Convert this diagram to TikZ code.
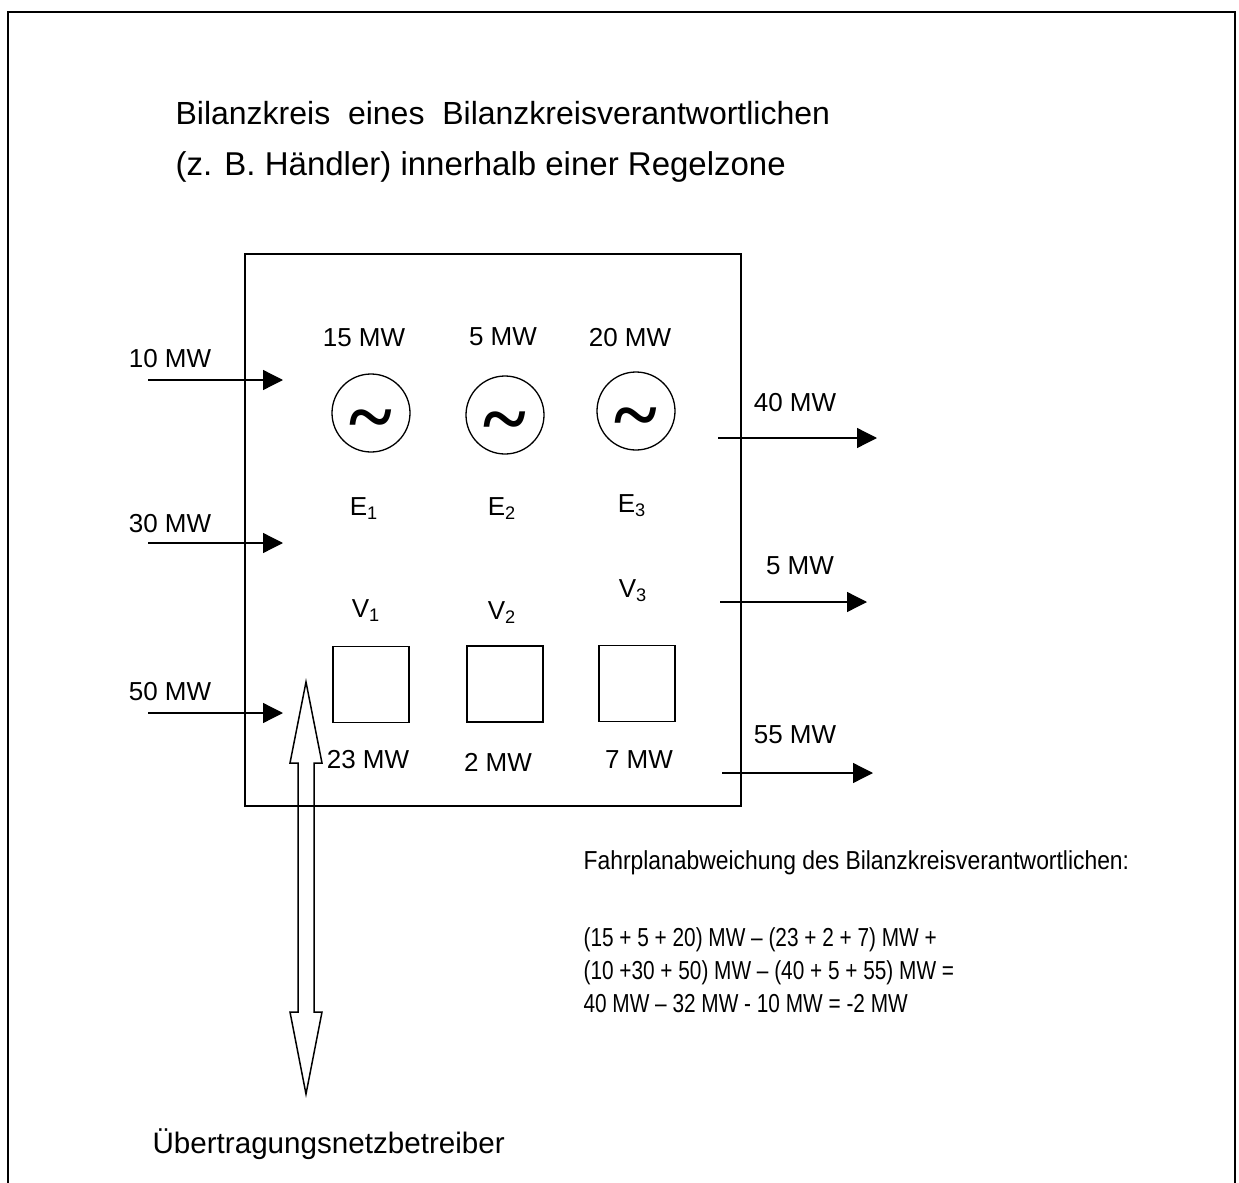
\documentclass[tikz,border=0pt]{standalone}
\usepackage{fontspec}
\setmainfont{Liberation Sans}
\newfontfamily\tildefont{Liberation Serif}
\usetikzlibrary{arrows.meta}

\begin{document}
\begin{tikzpicture}[x=0.5pt, y=-0.5pt, semithick,
  flow/.style={-{Triangle[length=10pt,width=10pt]}, line width=0.65pt},
  gen/.style={circle, draw, line width=0.65pt, minimum size=39pt, inner sep=0pt},
  wave/.style={inner sep=0pt, yshift=-7pt, font=\tildefont\bfseries\fontsize{41}{41}\selectfont},
  load/.style={draw, line width=0.75pt, minimum size=38pt, inner sep=0pt},
  lbl/.style={anchor=base, inner sep=0pt, font=\fontsize{13}{15}\selectfont},
  txt/.style={anchor=base west, inner sep=0pt, align=left}]

  \useasboundingbox (0,0) rectangle (1239,1183);
  \draw[line width=1pt] (8,1200) -- (8,12) -- (1235,12) -- (1235,1200);

  \node[txt, font=\fontsize{16}{18}\selectfont] (titel1) at (175,124) {Bilanzkreis\ \ eines\ \ Bilanzkreisverantwortlichen};
  \node[txt, font=\fontsize{16.5}{18}\selectfont] (titel2) at (175,175) {(z. B. Händler) innerhalb einer Regelzone};

  \draw[line width=1pt] (245,254) rectangle (741,806);

  % Einspeisungen
  \node[gen] (E1) at (371,413) {};
  \node[gen] (E2) at (505,415) {};
  \node[gen] (E3) at (636,411) {};
  \node[wave] at (E1) {\char"7E};
  \node[wave] at (E2) {\char"7E};
  \node[wave] at (E3) {\char"7E};
  \node[lbl] (pE1) at (364,346) {15 MW};
  \node[lbl] (pE2) at (503,345) {5 MW};
  \node[lbl] (pE3) at (630,346) {20 MW};
  \node[lbl] (nE1) at (364,515) {E\textsubscript{1}};
  \node[lbl] (nE2) at (502,515) {E\textsubscript{2}};
  \node[lbl] (nE3) at (632,512) {E\textsubscript{3}};

  % Verbraucher
  \node[load] (V1) at (371,684.5) {};
  \node[load, line width=1pt] (V2) at (504.5,684) {};
  \node[load] (V3) at (637,683.5) {};
  \node[lbl] (nV1) at (366,617) {V\textsubscript{1}};
  \node[lbl] (nV2) at (502,619) {V\textsubscript{2}};
  \node[lbl] (nV3) at (633,597) {V\textsubscript{3}};
  \node[lbl] (pV1) at (368,768) {23 MW};
  \node[lbl] (pV2) at (498,771) {2 MW};
  \node[lbl] (pV3) at (639,768) {7 MW};

  % Austausch mit anderen Bilanzkreisen
  \coordinate (i1) at (148,380); \coordinate (j1) at (283,380);
  \coordinate (i2) at (148,543); \coordinate (j2) at (283,543);
  \coordinate (i3) at (148,713); \coordinate (j3) at (283,713);
  \draw[flow] (i1) -- (j1);
  \draw[flow] (i2) -- (j2);
  \draw[flow] (i3) -- (j3);
  \node[lbl] (pi1) at (170,367) {10 MW};
  \node[lbl] (pi2) at (170,532) {30 MW};
  \node[lbl] (pi3) at (170,700) {50 MW};

  \coordinate (o1) at (718,438); \coordinate (p1) at (877,438);
  \coordinate (o2) at (720,602); \coordinate (p2) at (867,602);
  \coordinate (o3) at (722,773); \coordinate (p3) at (873,773);
  \draw[flow] (o1) -- (p1);
  \draw[flow] (o2) -- (p2);
  \draw[flow] (o3) -- (p3);
  \node[lbl] (po1) at (795,411) {40 MW};
  \node[lbl] (po2) at (800,574) {5 MW};
  \node[lbl] (po3) at (795,743) {55 MW};

  % Doppelpfeil zum Netzbetreiber
  \draw[line width=0.75pt, line join=miter] (306,682) -- (322,763) -- (314,763) -- (314,1012)
    -- (322,1012) -- (306,1094) -- (290,1012) -- (298,1012) -- (298,763) -- (290,763) -- cycle;
  \node[txt, font=\fontsize{14.8}{17}\selectfont] (uenb) at (152,1153) {Übertragungsnetzbetreiber};

  \node[txt, font=\fontsize{13}{16.5}\selectfont] (fpa) at (583,869)
    {\scalebox{0.88}[1]{Fahrplanabweichung des Bilanzkreisverantwortlichen:}};
  \node[txt, font=\fontsize{13}{16.5}\selectfont] (rechnung) at (583,1012) {\scalebox{0.8}[1]{\begin{tabular}[b]{@{}l@{}}
    (15 + 5 + 20) MW – (23 + 2 + 7) MW +\\
    (10 +30 + 50) MW – (40 + 5 + 55) MW =\\
    40 MW – 32 MW - 10 MW = -2 MW\end{tabular}}};

\end{tikzpicture}
\end{document}
